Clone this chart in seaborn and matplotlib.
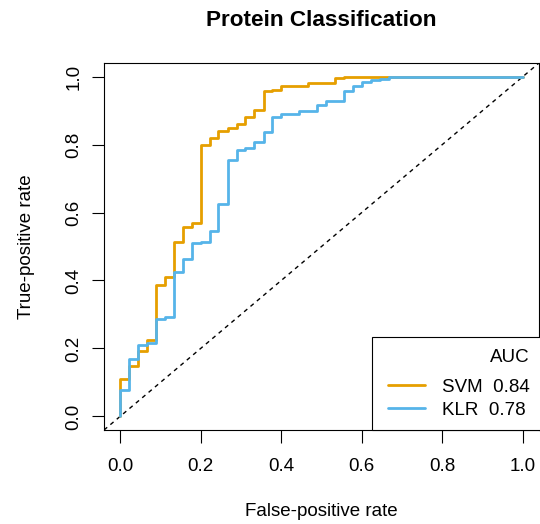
import numpy as np
import pandas as pd
import matplotlib
matplotlib.use("Agg")
import matplotlib.pyplot as plt
from matplotlib.patches import Rectangle
import seaborn as sns

# ---- data ----
svm_fpr = [0.0, 0.0, 0.022, 0.044, 0.067, 0.089, 0.111, 0.133, 0.156, 0.178,
           0.200, 0.222, 0.244, 0.267, 0.289, 0.311, 0.333, 0.356, 0.378, 0.400,
           0.467, 0.533, 0.556, 0.600, 1.0]
svm_tpr = [0.0, 0.109, 0.148, 0.192, 0.226, 0.386, 0.411, 0.514, 0.558, 0.568,
           0.800, 0.820, 0.841, 0.849, 0.861, 0.881, 0.901, 0.957, 0.962, 0.972,
           0.981, 0.995, 0.998, 1.0, 1.0]
klr_fpr = [0.0, 0.0, 0.022, 0.044, 0.067, 0.089, 0.111, 0.133, 0.156, 0.178,
           0.200, 0.222, 0.244, 0.267, 0.289, 0.311, 0.333, 0.356, 0.378, 0.400,
           0.444, 0.489, 0.511, 0.556, 0.578, 0.600, 0.622, 0.644, 0.667, 1.0]
klr_tpr = [0.0, 0.079, 0.168, 0.210, 0.217, 0.288, 0.292, 0.424, 0.464, 0.509,
           0.514, 0.547, 0.625, 0.754, 0.785, 0.790, 0.808, 0.837, 0.881, 0.890,
           0.898, 0.915, 0.927, 0.957, 0.973, 0.985, 0.990, 0.994, 1.0, 1.0]
models = ["SVM", "KLR"]
auc_values = [0.84, 0.78]
colors = ["#E69F00", "#56B4E9"]
tick_values = [0.0, 0.2, 0.4, 0.6, 0.8, 1.0]
tick_labels = ["0.0", "0.2", "0.4", "0.6", "0.8", "1.0"]

df = pd.concat([
    pd.DataFrame({"fpr": svm_fpr, "tpr": svm_tpr, "model": "SVM"}),
    pd.DataFrame({"fpr": klr_fpr, "tpr": klr_tpr, "model": "KLR"}),
], ignore_index=True)

sns.set_style("white")
plt.rcParams["font.family"] = ["Liberation Sans", "DejaVu Sans"]
plt.rcParams["text.color"] = "black"

fig = plt.figure(figsize=(5.40, 5.24), dpi=100)
ax = fig.add_axes([104 / 540, 94 / 524, 435 / 540, 367 / 524])

ax.axline((0, 0), slope=1, color="black", lw=1.0, ls=(0, (3, 3)), zorder=1)

sns.lineplot(data=df, x="fpr", y="tpr", hue="model",
             palette=dict(zip(models, colors)), estimator=None, sort=False,
             drawstyle="steps-post", lw=2.0, legend=False, ax=ax, zorder=2)

ax.set_xlim(-0.04, 1.04)
ax.set_ylim(-0.04, 1.04)
ax.set_xticks(tick_values)
ax.set_xticklabels(tick_labels)
ax.set_yticks(tick_values)
ax.set_yticklabels(tick_labels, rotation=90, va="center")
ax.tick_params(axis="both", direction="out", length=9, width=0.8,
               color="black", labelsize=13.5, labelcolor="black",
               bottom=True, left=True)
ax.tick_params(axis="x", pad=11)
ax.tick_params(axis="y", pad=6.5)
for sp in ax.spines.values():
    sp.set_visible(True)
    sp.set_color("black")
    sp.set_linewidth(0.8)

ax.set_xlabel("False-positive rate", fontsize=13.5, labelpad=20, color="black")
ax.set_ylabel("True-positive rate", fontsize=13.5, labelpad=22, color="black")
ax.set_title("Protein Classification", fontsize=16.2, fontweight="bold",
             pad=27, color="black")

# legend frame (box anchored to the lower-right corner of the plot region)
frame = Rectangle((268 / 435, 0.0), 1.02 - 268 / 435, 93 / 367,
                  transform=ax.transAxes, facecolor="white",
                  edgecolor="black", lw=0.8, zorder=4, clip_on=False)
ax.add_patch(frame)

handles = [plt.Line2D([], [], color=c, lw=2.0) for c in colors]
labels = [f"{m}  {a:.2f}" for m, a in zip(models, auc_values)]
leg = ax.legend(handles, labels, title="AUC", loc="lower right",
                bbox_to_anchor=(1.005, 0.0), borderaxespad=0,
                fontsize=13.5, title_fontsize=13.5, frameon=False,
                handlelength=2.0, handletextpad=0.9, borderpad=0.6,
                labelspacing=0.3, alignment="right")
leg.set_zorder(5)
leg._legend_box.sep = 9.5

fig.savefig("out.png", dpi=100)
